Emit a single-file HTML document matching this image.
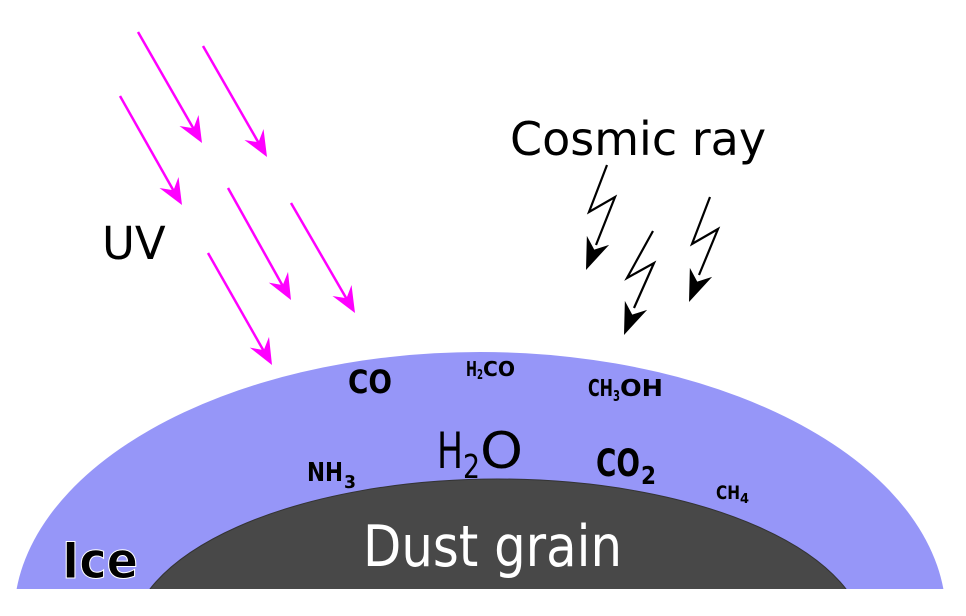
<!DOCTYPE html>
<html><head><style>html,body{margin:0;padding:0;background:#fff;width:966px;height:616px;overflow:hidden}svg{display:block}</style></head>
<body>
<svg width="966" height="616" viewBox="0 0 966 616" xmlns="http://www.w3.org/2000/svg" font-family="DejaVu Sans, Liberation Sans, sans-serif">
<defs>
<clipPath id="c"><rect x="0" y="0" width="966" height="589"/></clipPath>
</defs>
<g clip-path="url(#c)">
<ellipse cx="480" cy="617" rx="466" ry="265" fill="#9696f8"/>
<ellipse cx="498" cy="642" rx="368" ry="163" fill="#484848" stroke="#333" stroke-width="1"/>
</g>
<g stroke="#ff00ff" stroke-width="2.5">
<line x1="138" y1="32" x2="196" y2="133"/>
<line x1="203" y1="46" x2="261" y2="147"/>
<line x1="120" y1="96" x2="176" y2="195"/>
<line x1="228" y1="188" x2="285" y2="290"/>
<line x1="291" y1="203" x2="349" y2="303"/>
<line x1="208" y1="253" x2="266" y2="355"/>
</g>
<g fill="#ff00ff">
<path d="M0 0 L-26 -11 L-17 0 L-26 11 Z" transform="translate(202,143) rotate(60)"/>
<path d="M0 0 L-26 -11 L-17 0 L-26 11 Z" transform="translate(267,157) rotate(60)"/>
<path d="M0 0 L-26 -11 L-17 0 L-26 11 Z" transform="translate(182,205) rotate(60)"/>
<path d="M0 0 L-26 -11 L-17 0 L-26 11 Z" transform="translate(291,300) rotate(61)"/>
<path d="M0 0 L-26 -11 L-17 0 L-26 11 Z" transform="translate(355,313) rotate(60)"/>
<path d="M0 0 L-26 -11 L-17 0 L-26 11 Z" transform="translate(272,365) rotate(61)"/>
</g>
<g stroke="#000" stroke-width="2.2" fill="none">
<polyline points="607,165 589,212 615,197 596,245"/>
<polyline points="653,231 627,278 654,263 634,308"/>
<polyline points="710,197 692,244 718,229 699,275"/>
</g>
<g fill="#000">
<path d="M0 0 L-32 -12 L-22 0 L-32 12 Z" transform="translate(586,270) rotate(112)"/>
<path d="M0 0 L-32 -12 L-22 0 L-32 12 Z" transform="translate(624,335) rotate(112)"/>
<path d="M0 0 L-32 -12 L-22 0 L-32 12 Z" transform="translate(689,302) rotate(112)"/>
</g>
<text x="102" y="259" font-size="45">UV</text>
<text x="510" y="155" font-size="46">Cosmic ray</text>
<g font-weight="bold" fill="#000" font-family="DejaVu Sans Condensed, DejaVu Sans, sans-serif">
<text x="348" y="393" font-size="32" textLength="44" lengthAdjust="spacingAndGlyphs">CO</text>
<text x="466" y="376" font-size="20" textLength="11" lengthAdjust="spacingAndGlyphs">H</text>
<text x="477" y="379" font-size="13" textLength="6" lengthAdjust="spacingAndGlyphs">2</text>
<text x="483" y="376" font-size="20" textLength="32" lengthAdjust="spacingAndGlyphs">CO</text>
<text x="588" y="396" font-size="23" textLength="25" lengthAdjust="spacingAndGlyphs">CH</text>
<text x="613" y="401" font-size="15" textLength="7" lengthAdjust="spacingAndGlyphs">3</text>
<text x="620" y="396" font-size="23" textLength="43" lengthAdjust="spacingAndGlyphs">OH</text>
<text x="307" y="481" font-size="26" textLength="36" lengthAdjust="spacingAndGlyphs">NH</text>
<text x="344" y="488" font-size="18" textLength="12" lengthAdjust="spacingAndGlyphs">3</text>
<text x="596" y="476" font-size="37" textLength="44" lengthAdjust="spacingAndGlyphs">CO</text>
<text x="641" y="484" font-size="25" textLength="15" lengthAdjust="spacingAndGlyphs">2</text>
<text x="716" y="499" font-size="19" textLength="24" lengthAdjust="spacingAndGlyphs">CH</text>
<text x="740" y="503" font-size="13" textLength="9" lengthAdjust="spacingAndGlyphs">4</text>
<text x="62" y="578" font-size="50" stroke="#fff" stroke-width="1" textLength="76" lengthAdjust="spacingAndGlyphs">Ice</text>
</g>
<g font-family="DejaVu Sans Condensed, DejaVu Sans, sans-serif">
<text x="437" y="468" font-size="50" textLength="26" lengthAdjust="spacingAndGlyphs">H</text>
<text x="463" y="478" font-size="33" textLength="17" lengthAdjust="spacingAndGlyphs">2</text>
<text x="480" y="468" font-size="50" textLength="43" lengthAdjust="spacingAndGlyphs">O</text>
<text x="363" y="566" font-size="57" fill="#fff" textLength="259" lengthAdjust="spacingAndGlyphs">Dust grain</text>
</g>
</svg>
</body></html>
